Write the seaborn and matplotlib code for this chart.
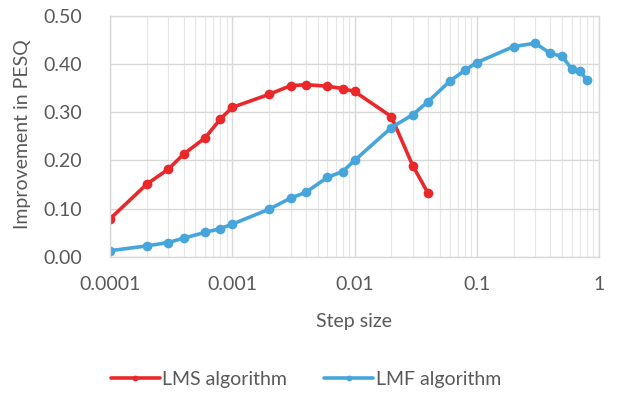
import matplotlib
matplotlib.use("Agg")
import matplotlib.pyplot as plt
from matplotlib.ticker import LogLocator, FixedLocator, NullFormatter
import pandas as pd
import seaborn as sns

# step sizes and PESQ improvement
lms_step = [0.0001, 0.0002, 0.0003, 0.0004, 0.0006, 0.0008, 0.001, 0.002, 0.003,
            0.004, 0.006, 0.008, 0.01, 0.02, 0.03, 0.04]
lms_gain = [0.079, 0.151, 0.182, 0.213, 0.247, 0.286, 0.310, 0.337, 0.355,
            0.357, 0.354, 0.349, 0.343, 0.291, 0.189, 0.132]

lmf_step = [0.0001, 0.0002, 0.0003, 0.0004, 0.0006, 0.0008, 0.001, 0.002, 0.003,
            0.004, 0.006, 0.008, 0.01, 0.02, 0.03, 0.04, 0.06, 0.08, 0.1, 0.2,
            0.3, 0.4, 0.5, 0.6, 0.7, 0.8]
lmf_gain = [0.013, 0.023, 0.030, 0.039, 0.051, 0.059, 0.068, 0.099, 0.122,
            0.134, 0.165, 0.177, 0.200, 0.268, 0.295, 0.322, 0.364, 0.387, 0.403, 0.436,
            0.443, 0.422, 0.416, 0.389, 0.385, 0.366]

series_names = ["LMS algorithm", "LMF algorithm"]
x_ticks = [0.0001, 0.001, 0.01, 0.1, 1]
x_tick_labels = ["0.0001", "0.001", "0.01", "0.1", "1"]
y_ticks = [0.0, 0.1, 0.2, 0.3, 0.4, 0.5]

df = pd.concat([
    pd.DataFrame({"step": lms_step, "gain": lms_gain, "algo": series_names[0]}),
    pd.DataFrame({"step": lmf_step, "gain": lmf_gain, "algo": series_names[1]}),
])

sns.set_style("white")
plt.rcParams["font.family"] = ["Lato", "DejaVu Sans"]
fs = 14
txt = "#595959"

fig = plt.figure(figsize=(6.18, 3.95), dpi=100)
ax = fig.add_axes([110 / 618, 1 - 257 / 395, (599 - 110) / 618, (257 - 15.7) / 395])

sns.lineplot(data=df, x="step", y="gain", hue="algo", sort=False,
             palette=["#EA2829", "#46A6DC"], marker="o", markersize=7,
             markeredgewidth=0, linewidth=2.6, ax=ax)

ax.set_xscale("log")
ax.set_xlim(0.0001, 1)
ax.set_ylim(0, 0.5)
ax.xaxis.set_major_locator(FixedLocator(x_ticks))
ax.set_xticklabels(x_tick_labels)
ax.xaxis.set_minor_locator(LogLocator(base=10, subs=range(2, 10)))
ax.xaxis.set_minor_formatter(NullFormatter())
ax.set_yticks(y_ticks)
ax.set_yticklabels([f"{v:.2f}" for v in y_ticks])

ax.grid(True, which="major", color="#d9d9d9", linewidth=1.0)
ax.grid(True, which="minor", axis="x", color="#e6e6e6", linewidth=0.8)
ax.set_axisbelow(True)
for s in ax.spines.values():
    s.set_color("#d9d9d9")
    s.set_linewidth(1.0)

ax.tick_params(axis="both", which="both", length=0, labelsize=fs, labelcolor=txt)
ax.tick_params(axis="x", pad=14)
ax.tick_params(axis="y", pad=20)

ax.set_xlabel("Step size", fontsize=fs, color=txt, va="center")
ax.xaxis.set_label_coords(354 / 618, 1 - 321 / 395, transform=fig.transFigure)
ax.set_ylabel("Improvement in PESQ", fontsize=fs, color=txt, va="center")
ax.yaxis.set_label_coords(23 / 618, 1 - 134 / 395, transform=fig.transFigure)

handles, labels = ax.get_legend_handles_labels()
ax.legend(handles, labels, loc="center", bbox_to_anchor=(306 / 618, 1 - 379 / 395),
          bbox_transform=fig.transFigure, ncol=2, frameon=False, fontsize=fs,
          labelcolor=txt, handlelength=2.5, handletextpad=0.15,
          columnspacing=1.9, markerscale=0.6)

fig.savefig("out.png", dpi=100)
